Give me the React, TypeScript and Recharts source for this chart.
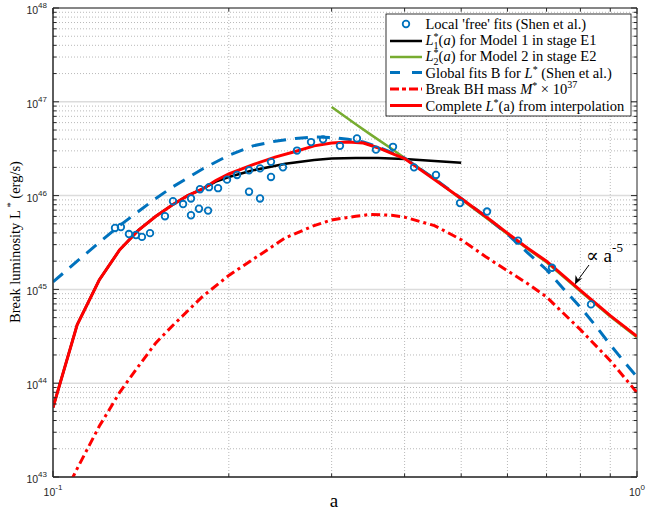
import { CartesianGrid, ComposedChart, Line, ReferenceArea, Scatter, XAxis, YAxis } from 'recharts'

// Local 'free' fits (Shen et al.)
const SHEN_A = [
  0.1277, 0.1307, 0.1349, 0.1387, 0.142, 0.1466, 0.1555, 0.1605, 0.167, 0.1723, 0.1723, 0.1778, 0.1785, 0.1843,
  0.185, 0.1917, 0.1986, 0.2066, 0.2166, 0.2166, 0.2262, 0.2262, 0.2362, 0.2362, 0.2476, 0.2617, 0.2766, 0.29,
  0.31, 0.3315, 0.3573, 0.3821, 0.4151, 0.4527, 0.4977, 0.5536, 0.6256, 0.7152, 0.8341,
]
const SHEN_L = [
  4.52e45, 4.62e45, 3.89e45, 3.8e45, 3.63e45, 3.98e45, 6.03e45, 8.71e45, 8.13e45, 6.17e45, 9.33e45, 7.24e45, 1.17e46,
  6.92e45, 1.23e46, 1.2e46, 1.48e46, 1.66e46, 1.1e46, 1.86e46, 9.33e45, 1.95e46, 1.58e46, 2.29e46, 2.0e46, 3.02e46,
  3.72e46, 3.98e46, 3.39e46, 4.07e46, 3.09e46, 3.31e46, 2.0e46, 1.66e46, 8.32e45, 6.76e45, 3.31e45, 1.7e45, 6.92e44,
]

// L1*(a), model 1 in stage E1
const MODEL1_A = [0.1, 0.11, 0.12, 0.13, 0.14, 0.15, 0.16, 0.17, 0.18, 0.19, 0.2, 0.22, 0.25, 0.28, 0.3, 0.33, 0.36, 0.4, 0.45, 0.5]
const MODEL1_L = [
  5.5e43, 4.2e44, 1.26e45, 2.63e45, 4.27e45, 6.03e45, 7.94e45, 1.0e46, 1.17e46, 1.41e46, 1.58e46, 1.86e46, 2.19e46,
  2.4e46, 2.48e46, 2.51e46, 2.51e46, 2.45e46, 2.34e46, 2.24e46,
]

// L2*(a), model 2 in stage E2
const MODEL2_A = [0.3, 0.33, 0.35, 0.38, 0.4, 0.45, 0.5, 0.55, 0.6, 0.65, 0.7, 0.8, 0.9, 1.0]
const MODEL2_L = [
  8.81e46, 5.75e46, 4.47e46, 3.16e46, 2.51e46, 1.51e46, 9.12e45, 5.89e45, 3.89e45, 2.69e45, 1.95e45, 9.55e44, 5.13e44,
  3.09e44,
]

// global fits B for L* (Shen et al.)
const GLOBAL_A = [
  0.1, 0.11, 0.12, 0.13, 0.14, 0.15, 0.16, 0.18, 0.2, 0.22, 0.24, 0.26, 0.28, 0.3, 0.32, 0.34, 0.36, 0.38, 0.4, 0.45,
  0.5, 0.55, 0.6, 0.65, 0.7, 0.75, 0.8, 0.85, 0.9, 0.95, 1.0,
]
const GLOBAL_L = [
  1.2e45, 2.0e45, 3.16e45, 4.79e45, 6.76e45, 9.33e45, 1.23e46, 1.91e46, 2.69e46, 3.39e46, 3.8e46, 4.07e46, 4.22e46,
  4.17e46, 3.98e46, 3.72e46, 3.31e46, 2.88e46, 2.51e46, 1.51e46, 9.33e45, 6.03e45, 3.89e45, 2.45e45, 1.62e45, 1.0e45,
  6.46e44, 4.07e44, 2.57e44, 1.7e44, 1.17e44,
]

// break BH mass M* x 10^37
const MASS_A = [
  0.1, 0.11, 0.12, 0.13, 0.14, 0.15, 0.16, 0.18, 0.2, 0.22, 0.25, 0.28, 0.3, 0.33, 0.35, 0.38, 0.4, 0.45, 0.5, 0.55,
  0.6, 0.65, 0.7, 0.8, 0.9, 1.0,
]
const MASS_L = [
  3.72e42, 1.23e43, 3.47e43, 7.94e43, 1.51e44, 2.69e44, 4.07e44, 8.32e44, 1.41e45, 2.09e45, 3.55e45, 4.79e45, 5.5e45,
  6.03e45, 6.31e45, 6.17e45, 5.89e45, 4.79e45, 3.39e45, 2.24e45, 1.58e45, 1.15e45, 8.32e44, 3.72e44, 1.74e44, 7.94e43,
]

// complete L*(a) from interpolation
const COMPLETE_A = [
  0.1, 0.11, 0.12, 0.13, 0.14, 0.15, 0.16, 0.17, 0.18, 0.19, 0.2, 0.22, 0.24, 0.26, 0.28, 0.3, 0.32, 0.34, 0.36, 0.38,
  0.4, 0.45, 0.5, 0.55, 0.6, 0.65, 0.7, 0.8, 0.9, 1.0,
]
const COMPLETE_L = [
  5.5e43, 4.2e44, 1.26e45, 2.63e45, 4.27e45, 6.03e45, 7.94e45, 1.0e46, 1.17e46, 1.45e46, 1.7e46, 2.14e46, 2.57e46,
  2.95e46, 3.39e46, 3.63e46, 3.72e46, 3.63e46, 3.24e46, 2.82e46, 2.48e46, 1.48e46, 9.33e45, 6.03e45, 3.98e45, 2.75e45,
  2.0e45, 9.77e44, 5.25e44, 3.16e44,
]

const X_TICKS = [0.1, 0.2, 0.3, 0.4, 0.5, 0.6, 0.7, 0.8, 0.9, 1]
const X_MAJOR = [0.1, 1]
const X_MINOR = [0.2, 0.3, 0.4, 0.5, 0.6, 0.7, 0.8, 0.9]
const Y_MAJOR = [1e43, 1e44, 1e45, 1e46, 1e47, 1e48]
const Y_MINOR = Y_MAJOR.slice(0, -1).flatMap((d) => [2, 3, 4, 5, 6, 7, 8, 9].map((m) => m * d))
const Y_TICKS = [...Y_MAJOR, ...Y_MINOR]

const BLUE = '#0072BD'
const GREEN = '#77AC30'
const RED = '#FF0000'
const AXIS = '#262626'

const W = 646
const H = 514
const PLOT_LEFT = 53
const PLOT_RIGHT = 637
const PLOT_TOP = 8
const PLOT_BOTTOM = 477

const pts = (xs: number[], ys: number[]) => xs.map((a, i) => ({ a, L: ys[i] }))

const shenData = pts(SHEN_A, SHEN_L)
const model1Data = pts(MODEL1_A, MODEL1_L)
const model2Data = pts(MODEL2_A, MODEL2_L)
const globalData = pts(GLOBAL_A, GLOBAL_L)
const massData = pts(MASS_A, MASS_L)
const completeData = pts(COMPLETE_A, COMPLETE_L)

const SANS = 'Liberation Sans, Arial, sans-serif'
const SERIF = 'Liberation Serif, DejaVu Serif, serif'

function XTick(props: any) {
  const { x, payload } = props
  const major = X_MAJOR.includes(payload.value)
  const len = major ? 6 : 3.5
  const exp = Math.round(Math.log10(payload.value))
  return (
    <g>
      <line x1={x} x2={x} y1={PLOT_BOTTOM} y2={PLOT_BOTTOM - len} stroke={AXIS} />
      <line x1={x} x2={x} y1={PLOT_TOP} y2={PLOT_TOP + len} stroke={AXIS} />
      {major && (
        <text x={x} y={PLOT_BOTTOM + 19} textAnchor="middle" fill={AXIS} fontSize={10.5} style={{ fontFamily: SANS }}>
          <tspan>10</tspan>
          <tspan dy={-6} fontSize={8}>
            {exp}
          </tspan>
        </text>
      )}
    </g>
  )
}

function YTick(props: any) {
  const { y, payload } = props
  const major = Y_MAJOR.includes(payload.value)
  const len = major ? 6 : 3.5
  const exp = Math.round(Math.log10(payload.value))
  return (
    <g>
      <line x1={PLOT_LEFT} x2={PLOT_LEFT + len} y1={y} y2={y} stroke={AXIS} />
      <line x1={PLOT_RIGHT} x2={PLOT_RIGHT - len} y1={y} y2={y} stroke={AXIS} />
      {major && (
        <text x={PLOT_LEFT - 6} y={y + 6} textAnchor="end" fill={AXIS} fontSize={10.5} style={{ fontFamily: SANS }}>
          <tspan>10</tspan>
          <tspan dy={-6} fontSize={8}>
            {exp}
          </tspan>
        </text>
      )}
    </g>
  )
}

function Circle(props: any) {
  const { cx, cy } = props
  return <circle cx={cx} cy={cy} r={3.3} fill="none" stroke={BLUE} strokeWidth={1.8} />
}

function Legend() {
  const rowY = [24, 41, 57, 72.5, 89, 105.5]
  const lx1 = 390
  const lx2 = 422
  const tx = 425.5
  return (
    <g fill="#000" fontSize={14.5} style={{ fontFamily: SERIF }}>
      <rect x={386} y={14} width={245} height={102} fill="#fff" stroke="#000" strokeWidth={0.8} />
      <circle cx={406} cy={rowY[0]} r={3.3} fill="none" stroke={BLUE} strokeWidth={1.8} />
      <text x={tx} y={rowY[0] + 5}>Local 'free' fits (Shen et al.)</text>

      <line x1={lx1} x2={lx2} y1={rowY[1]} y2={rowY[1]} stroke="#000" strokeWidth={2.5} />
      <text x={tx} y={rowY[1] + 4}>
        <tspan fontStyle="italic">L</tspan>
        <tspan dy={-5} fontSize={10}>*</tspan>
        <tspan dx={-5} dy={9} fontSize={10}>1</tspan>
        <tspan dy={-4}>(</tspan>
        <tspan fontStyle="italic">a</tspan>
        <tspan>) for Model 1 in stage E1</tspan>
      </text>

      <line x1={lx1} x2={lx2} y1={rowY[2]} y2={rowY[2]} stroke={GREEN} strokeWidth={2.5} />
      <text x={tx} y={rowY[2] + 4}>
        <tspan fontStyle="italic">L</tspan>
        <tspan dy={-5} fontSize={10}>*</tspan>
        <tspan dx={-5} dy={9} fontSize={10}>2</tspan>
        <tspan dy={-4}>(</tspan>
        <tspan fontStyle="italic">a</tspan>
        <tspan>) for Model 2 in stage E2</tspan>
      </text>

      <line x1={lx1} x2={lx2} y1={rowY[3]} y2={rowY[3]} stroke={BLUE} strokeWidth={3} strokeDasharray="10 12" />
      <text x={tx} y={rowY[3] + 5}>
        <tspan>Global fits B for </tspan>
        <tspan fontStyle="italic">L</tspan>
        <tspan dy={-5} fontSize={10}>*</tspan>
        <tspan dy={5}> (Shen et al.)</tspan>
      </text>

      <line x1={lx1} x2={lx2} y1={rowY[4]} y2={rowY[4]} stroke={RED} strokeWidth={3} strokeDasharray="9 3 4 3" />
      <text x={tx} y={rowY[4] + 5}>
        <tspan>Break BH mass </tspan>
        <tspan fontStyle="italic">M</tspan>
        <tspan dy={-5} fontSize={10}>*</tspan>
        <tspan dy={5}> × 10</tspan>
        <tspan dy={-6} fontSize={10}>37</tspan>
      </text>

      <line x1={lx1} x2={lx2} y1={rowY[5]} y2={rowY[5]} stroke={RED} strokeWidth={3} />
      <text x={tx} y={rowY[5] + 5}>
        <tspan>Complete </tspan>
        <tspan fontStyle="italic">L</tspan>
        <tspan dy={-5} fontSize={10}>*</tspan>
        <tspan dy={5}>(a) from interpolation</tspan>
      </text>
    </g>
  )
}

function Overlay() {
  return (
    <svg width={W} height={H} style={{ position: 'absolute', left: 0, top: 0, pointerEvents: 'none' }}>
      <Legend />
      {/* power-law annotation */}
      <line x1={589} y1={265} x2={578} y2={280} stroke="#000" strokeWidth={1} />
      <polygon points="575,284.5 575.5,275 578,279.5 582.5,278" fill="#000" />
      <text x={586} y={262} fontSize={19} fill="#000" style={{ fontFamily: SERIF }}>
        <tspan>∝ a</tspan>
        <tspan dy={-10} fontSize={13}>-5</tspan>
      </text>
      <text x={334} y={507} textAnchor="middle" fontSize={19} fill="#000" style={{ fontFamily: SERIF }}>
        a
      </text>
      <text
        transform="translate(20 242) rotate(-90)"
        textAnchor="middle"
        fontSize={14.5}
        fill="#000"
        style={{ fontFamily: SERIF }}
      >
        <tspan>Break luminosity L</tspan>
        <tspan dy={-6} fontSize={10.5}>{' *'}</tspan>
        <tspan dy={6}> (erg/s)</tspan>
      </text>
    </svg>
  )
}

export default function App() {
  return (
    <div style={{ position: 'relative', width: W, height: H, background: '#fff' }}>
      <style>{'body{margin:0}'}</style>
      <ComposedChart width={W} height={H} margin={{ top: PLOT_TOP, right: W - PLOT_RIGHT, bottom: 0, left: 0 }}>
        <CartesianGrid vertical={false} horizontalValues={Y_MINOR} stroke="#b9b9b9" strokeDasharray="1 2" />
        <CartesianGrid horizontal={false} verticalValues={X_MINOR} stroke="#b9b9b9" strokeDasharray="1 2" />
        <CartesianGrid vertical={false} horizontalValues={Y_MAJOR} stroke="#dcdcdc" strokeWidth={1.5} />
        <XAxis
          dataKey="a"
          type="number"
          scale="log"
          domain={[0.1, 1]}
          ticks={X_TICKS}
          interval={0}
          allowDataOverflow
          height={H - PLOT_BOTTOM}
          tickLine={false}
          tickSize={0}
          tickMargin={0}
          axisLine={{ stroke: AXIS }}
          tick={(p: any) => <XTick {...p} />}
        />
        <YAxis
          dataKey="L"
          type="number"
          scale="log"
          domain={[1e43, 1e48]}
          ticks={Y_TICKS}
          interval={0}
          allowDataOverflow
          width={PLOT_LEFT}
          tickLine={false}
          tickSize={0}
          tickMargin={0}
          axisLine={{ stroke: AXIS }}
          tick={(p: any) => <YTick {...p} />}
        />
        <ReferenceArea x1={0.1} x2={1} y1={1e43} y2={1e48} fill="none" stroke={AXIS} strokeWidth={1} />
        <Scatter data={shenData} dataKey="L" shape={(p: any) => <Circle {...p} />} isAnimationActive={false} />
        <Line data={model1Data} dataKey="L" type="linear" stroke="#000" strokeWidth={2.5} dot={false} isAnimationActive={false} />
        <Line data={model2Data} dataKey="L" type="linear" stroke={GREEN} strokeWidth={2.5} dot={false} isAnimationActive={false} />
        <Line
          data={globalData}
          dataKey="L"
          type="linear"
          stroke={BLUE}
          strokeWidth={3}
          strokeDasharray="13 9"
          dot={false}
          isAnimationActive={false}
        />
        <Line
          data={massData}
          dataKey="L"
          type="linear"
          stroke={RED}
          strokeWidth={3}
          strokeDasharray="9 4 3 4"
          dot={false}
          isAnimationActive={false}
        />
        <Line data={completeData} dataKey="L" type="linear" stroke={RED} strokeWidth={3} dot={false} isAnimationActive={false} />
      </ComposedChart>
      <Overlay />
    </div>
  )
}
